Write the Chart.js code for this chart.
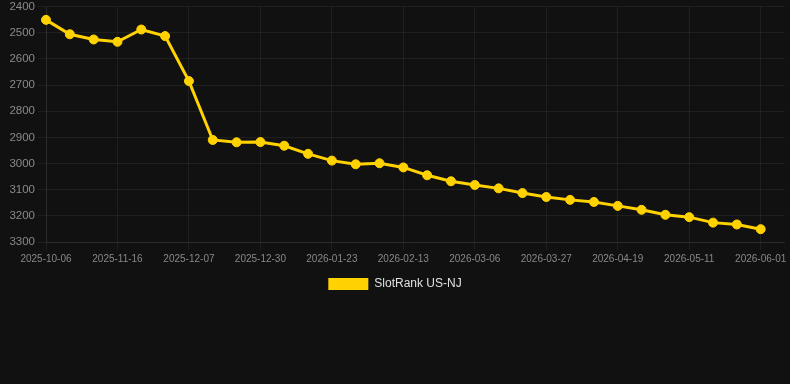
<!DOCTYPE html>
<html>
<head>
<meta charset="utf-8">
<script src="https://cdn.jsdelivr.net/npm/chart.js@4/dist/chart.umd.min.js"></script>
<style>
  html, body { margin: 0; padding: 0; background: #111111; }
  .wrap { position: relative; width: 790px; height: 300px; }
</style>
</head>
<body>
<div class="wrap"><canvas id="chart"></canvas></div>
<script>
// dates on the x axis (last one has no value yet)
const dates = [
  "2025-10-06", "2025-10-19", "2025-11-02", "2025-11-16", "2025-11-23", "2025-11-30",
  "2025-12-07", "2025-12-14", "2025-12-22", "2025-12-30", "2026-01-07", "2026-01-15",
  "2026-01-23", "2026-01-30", "2026-02-06", "2026-02-13", "2026-02-20", "2026-02-27",
  "2026-03-06", "2026-03-13", "2026-03-20", "2026-03-27", "2026-04-03", "2026-04-11",
  "2026-04-19", "2026-04-26", "2026-05-04", "2026-05-11", "2026-05-18", "2026-05-25",
  "2026-06-01", "2026-06-08"
];

// rank values
const rankNJ = [
  2451, 2506, 2526, 2535, 2488, 2513, 2685, 2910, 2919, 2918, 2932, 2963,
  2989, 3003, 2999, 3015, 3045, 3068, 3082, 3095, 3113, 3128, 3139, 3147,
  3162, 3177, 3196, 3205, 3226, 3233, 3251, null
];

const seriesName = "SlotRank US-NJ";
const yMin = 2400;
const yMax = 3300;

const gold = "#FFD200";
const gridColor = "rgba(255,255,255,0.06)";

Chart.defaults.font.family = "'Liberation Sans', Arial, sans-serif";

const ctx = document.getElementById("chart").getContext("2d");
new Chart(ctx, {
  type: "line",
  data: {
    labels: dates,
    datasets: [{
      label: seriesName,
      data: rankNJ,
      borderColor: gold,
      backgroundColor: gold,
      pointBackgroundColor: gold,
      pointBorderColor: gold,
      borderWidth: 3,
      pointRadius: 4.5,
      pointBorderWidth: 1,
      tension: 0,
      fill: false,
    }],
  },
  options: {
    responsive: true,
    maintainAspectRatio: false,
    animation: false,
    layout: { padding: 0 },
    scales: {
      x: {
        grid: { color: gridColor },
        border: { color: gridColor },
        ticks: {
          autoSkip: false,
          maxRotation: 0,
          color: "#888888",
          font: { size: 10 },
          // only every third date is shown, like the original
          callback: function (value, index) {
            return index % 3 === 0 ? this.getLabelForValue(value) : null;
          },
        },
        afterFit: (scale) => {
          scale.paddingLeft = 0;
          scale.paddingRight = 0;
        },
      },
      y: {
        reverse: true,
        min: yMin,
        max: yMax,
        grid: { color: gridColor },
        border: { color: gridColor },
        ticks: {
          stepSize: 100,
          color: "#8a8a8a",
          font: { size: 11.5 },
          callback: (v) => String(v),
        },
        afterFit: (scale) => {
          scale.width = 46;
          scale.paddingTop = 6.5;
        },
      },
    },
    plugins: {
      legend: {
        position: "bottom",
        labels: {
          color: "#e0e0e0",
          font: { size: 12 },
          boxWidth: 40,
          boxHeight: 12,
          generateLabels: (chart) =>
            Chart.defaults.plugins.legend.labels.generateLabels(chart).map((l) => ({ ...l, lineWidth: 0 })),
        },
      },
      tooltip: { enabled: false },
    },
  },
});
</script>
</body>
</html>
